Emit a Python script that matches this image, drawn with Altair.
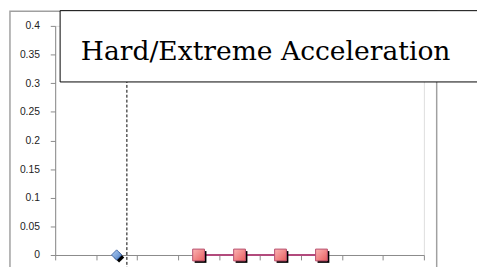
import altair as alt
import pandas as pd

# ---- data ----
series_a_x = [2]
series_a_y = [0.0]
series_b_x = [4, 5, 6, 7]
series_b_y = [0.0, 0.0, 0.0, 0.0]
event_x = [2.25]
y_ticks = [0, 0.05, 0.1, 0.15, 0.2, 0.25, 0.3, 0.35, 0.4]
x_ticks = [0.5, 1.5, 2.5, 3.5, 4.5, 5.5, 6.5, 7.5, 8.5, 9.5]
title_text = "Hard/Extreme Acceleration"

W, H = 375, 233

df_a = pd.DataFrame({"x": series_a_x, "y": series_a_y})
df_b = pd.DataFrame({"x": series_b_x, "y": series_b_y})
df_e = pd.DataFrame({"x": event_x})
df_one = pd.DataFrame({"a": [0]})

xs = alt.Scale(domain=[0.5, 9.5], nice=False, zero=False)
ys = alt.Scale(domain=[0, 0.4], nice=False)

x_axis = alt.Axis(values=x_ticks, labels=False, tickSize=5, grid=False, title=None,
                  domainColor="#8a8a8a", tickColor="#8a8a8a")
y_axis = alt.Axis(values=y_ticks, format="~g", tickSize=5, grid=False, title=None,
                  domainColor="#8a8a8a", tickColor="#8a8a8a", labelPadding=11,
                  labelOverlap=False, labelFont="Liberation Sans", labelFontSize=10.5,
                  labelColor="#222222")

X = alt.X("x:Q", scale=xs, axis=x_axis)
Y = alt.Y("y:Q", scale=ys, axis=y_axis)

frame = alt.Chart(df_one).mark_rect(fill="transparent", stroke="#a0a0a0", strokeWidth=1.5).encode(
    x=alt.value(-46), x2=alt.value(388), y=alt.value(-15), y2=alt.value(320))

rule = alt.Chart(df_e).mark_rule(color="black", strokeDash=[3, 2], strokeWidth=1).encode(
    x=X, y=alt.value(0), y2=alt.value(H + 20))

box = alt.Chart(df_one).mark_rect(fill="white", stroke="black", strokeWidth=1).encode(
    x=alt.value(5), x2=alt.value(450), y=alt.value(-15.5), y2=alt.value(57))

title = alt.Chart(df_one).mark_text(text=title_text, font="DejaVu Serif", fontSize=27,
                                    align="left", baseline="alphabetic", color="black").encode(
    x=alt.value(26), y=alt.value(35))

line_b = alt.Chart(df_b).mark_line(color="#b24a7c", strokeWidth=2).encode(x=X, y=Y)

shadow_b = alt.Chart(df_b).mark_square(size=144, color="black", opacity=1).encode(
    x=X, y=Y, xOffset=alt.value(2), yOffset=alt.value(2))

pink_grad = alt.Gradient(gradient="linear", x1=0, y1=0, x2=1, y2=1,
                         stops=[alt.GradientStop(color="#fbb4b4", offset=0),
                                alt.GradientStop(color="#e85f5f", offset=1)])
blue_grad = alt.Gradient(gradient="linear", x1=0, y1=0, x2=1, y2=1,
                         stops=[alt.GradientStop(color="#b6d2f5", offset=0),
                                alt.GradientStop(color="#4a7cc4", offset=1)])

pts_b = alt.Chart(df_b).mark_square(size=144, fill=pink_grad, stroke="#b8506e",
                                    strokeWidth=1, opacity=1, fillOpacity=1).encode(x=X, y=Y)

shadow_a = alt.Chart(df_a).mark_point(shape="diamond", size=110, filled=True, color="black",
                                      opacity=1).encode(
    x=X, y=Y, xOffset=alt.value(2.5), yOffset=alt.value(2.5))

pts_a = alt.Chart(df_a).mark_point(shape="diamond", size=110, filled=True, fill=blue_grad,
                                   stroke="#2f5597", strokeWidth=0.8, opacity=1).encode(x=X, y=Y)

chart = alt.layer(frame, rule, box, title, line_b, shadow_b, pts_b, shadow_a, pts_a).properties(
    width=W, height=H,
    autosize=alt.AutoSizeParams(type="none"),
    padding={"left": 48, "top": 16, "right": 54, "bottom": 10},
).configure_view(stroke=None).configure(background="white")

chart.save("out.html", embed_options={"renderer": "svg", "actions": False})
